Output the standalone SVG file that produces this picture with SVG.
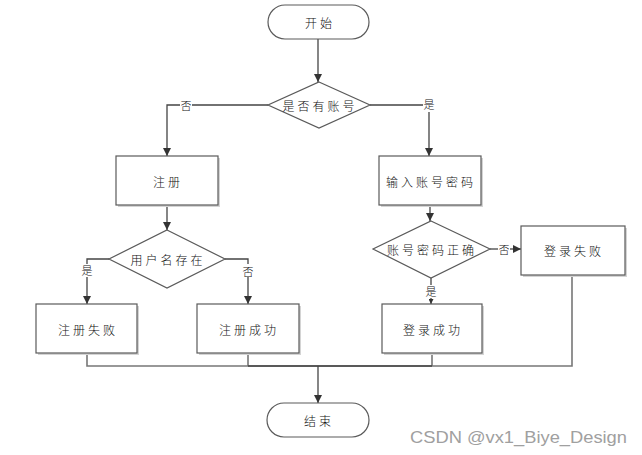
<svg xmlns="http://www.w3.org/2000/svg" width="642" height="455" viewBox="0 0 642 455">
<style>
.shape{fill:#fff;stroke:#5a5a5a;stroke-width:1.2}
.shadow{fill:#d4d4d4;stroke:none}
.t{font-family:"Noto Sans CJK SC","Noto Sans CJK JP",sans-serif;font-size:12px;font-weight:300;fill:#111;text-anchor:middle;dominant-baseline:central;letter-spacing:3px}
.lbl{font-family:"Noto Sans CJK SC",sans-serif;font-size:11px;font-weight:300;fill:#111;text-anchor:middle;dominant-baseline:central}
.c{fill:none;stroke:#444;stroke-width:1.3}
.c2{fill:none;stroke:#777;stroke-width:1.6}
.bg{fill:#fff}
</style>
<defs>
<marker id="ah" viewBox="0 0 10 10" refX="10" refY="5" markerWidth="8" markerHeight="8" markerUnits="userSpaceOnUse" orient="auto">
<path d="M0,0 L10,5 L0,10 z" fill="#333"/>
</marker>
<marker id="ahs" viewBox="0 0 10 10" refX="10" refY="5" markerWidth="5" markerHeight="5" markerUnits="userSpaceOnUse" orient="auto">
<path d="M0,0 L10,5 L0,10 z" fill="#333"/>
</marker>
</defs>
<rect width="642" height="455" fill="#fff"/>
<g id="connectors">
<path class="c" d="M318,39 V82" marker-end="url(#ah)"/>
<path class="c" d="M268,105 H167 V156" marker-end="url(#ah)"/>
<path class="c" d="M370,105 H429 V156" marker-end="url(#ah)"/>
<path class="c" d="M167,205 V230" marker-end="url(#ah)"/>
<path class="c" d="M109,259 H87 V304" marker-end="url(#ah)"/>
<path class="c" d="M225,259 H248 V304" marker-end="url(#ah)"/>
<path class="c" d="M430,205 V221" marker-end="url(#ah)"/>
<path class="c" d="M490,249 H521" marker-end="url(#ah)"/>
<path class="c" d="M431,278 V304" marker-end="url(#ahs)"/>
<path class="c2" d="M87,353 V366 H572 V275"/>
<path class="c2" d="M248,353 V366"/>
<path class="c2" d="M432,353 V366"/>
<path class="c" d="M248,366 H432" stroke-width="1.6"/>
<path class="c" d="M318,366 V403" stroke-width="1.6" marker-end="url(#ah)"/>
<rect class="bg" x="180" y="99" width="12" height="14"/>
<text class="lbl" x="186" y="105">否</text>
<rect class="bg" x="423" y="98" width="12" height="14"/>
<text class="lbl" x="429" y="104">是</text>
<rect class="bg" x="81" y="264" width="12" height="13"/>
<text class="lbl" x="87" y="270">是</text>
<rect class="bg" x="242" y="264" width="12" height="13"/>
<text class="lbl" x="248" y="271">否</text>
<rect class="bg" x="498" y="243" width="12" height="13"/>
<text class="lbl" x="504" y="249">否</text>
<rect class="bg" x="425" y="285" width="12" height="13"/>
<text class="lbl" x="431" y="291">是</text>
</g>
<g id="start">
<rect class="shape" x="268" y="5" width="101" height="34" rx="17"/>
<text class="t" x="320" y="22">开始</text>
</g>
<g id="hasAccount">
<polygon class="shape" points="319,82 370,105 319,128 268,105"/>
<text class="t" x="320" y="105">是否有账号</text>
</g>
<g id="register">
<rect class="shadow" x="118" y="158" width="102" height="49"/>
<rect class="shape" x="116" y="156" width="102" height="49"/>
<text class="t" x="168" y="181">注册</text>
</g>
<g id="userExists">
<polygon class="shape" points="167,230 225,259 167,288 109,259"/>
<text class="t" x="168" y="259">用户名存在</text>
</g>
<g id="regFail">
<rect class="shadow" x="38" y="306" width="101" height="49"/>
<rect class="shape" x="36" y="304" width="101" height="49"/>
<text class="t" x="88" y="329">注册失败</text>
</g>
<g id="regSuccess">
<rect class="shadow" x="199" y="306" width="102" height="49"/>
<rect class="shape" x="197" y="304" width="102" height="49"/>
<text class="t" x="249" y="329">注册成功</text>
</g>
<g id="inputAccount">
<rect class="shadow" x="381" y="158" width="102" height="49"/>
<rect class="shape" x="379" y="156" width="102" height="49"/>
<text class="t" x="431" y="181">输入账号密码</text>
</g>
<g id="checkPwd">
<polygon class="shape" points="431,221 490,249 431,278 373,249"/>
<text class="t" x="432" y="249">账号密码正确</text>
</g>
<g id="loginFail">
<rect class="shadow" x="523" y="228" width="104" height="49"/>
<rect class="shape" x="521" y="226" width="104" height="49"/>
<text class="t" x="574" y="250">登录失败</text>
</g>
<g id="loginSuccess">
<rect class="shadow" x="384" y="306" width="100" height="49"/>
<rect class="shape" x="382" y="304" width="100" height="49"/>
<text class="t" x="433" y="329">登录成功</text>
</g>
<g id="end">
<rect class="shape" x="267" y="403" width="102" height="34" rx="17"/>
<text class="t" x="319" y="420">结束</text>
</g>
<text x="410" y="443" font-family="'Liberation Sans',Arial,sans-serif" font-size="17" fill="#a0a0a0" textLength="217" lengthAdjust="spacingAndGlyphs">CSDN @vx1_Biye_Design</text>
</svg>
